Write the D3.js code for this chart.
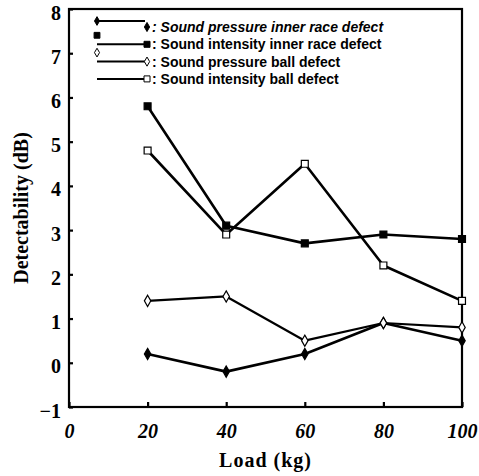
<html>
<head>
<meta charset="utf-8">
<title>Detectability vs Load</title>
<style>
  body { margin: 0; background: #fff; }
  .tick text { font-family: "Liberation Serif", serif; font-weight: bold; fill: #000; }
</style>
<script src="https://d3js.org/d3.v7.min.js"></script>
</head>
<body>
<svg width="479" height="476"></svg>
<script>
var loads = [20, 40, 60, 80, 100];
var pressureInner = [0.2, -0.2, 0.2, 0.9, 0.5];
var intensityInner = [5.8, 3.1, 2.7, 2.9, 2.8];
var pressureBall = [1.4, 1.5, 0.5, 0.9, 0.8];
var intensityBall = [4.8, 2.9, 4.5, 2.2, 1.4];
var xTicks = [0, 20, 40, 60, 80, 100];
var yTicks = [-1, 0, 1, 2, 3, 4, 5, 6, 7, 8];
var seriesNames = [": Sound pressure inner race defect", ": Sound intensity inner race defect",
                   ": Sound pressure ball defect", ": Sound intensity ball defect"];

var series = [
  {name: seriesNames[0], values: pressureInner, marker: "diamond", fill: "#000", w: 2.6, italic: true},
  {name: seriesNames[1], values: intensityInner, marker: "square", fill: "#000", w: 2.6, italic: false},
  {name: seriesNames[2], values: pressureBall, marker: "diamond", fill: "#fff", w: 2.2, italic: false},
  {name: seriesNames[3], values: intensityBall, marker: "square", fill: "#fff", w: 2.6, italic: false}
];
// legend row layout: line offset, extra (start) marker offset
var legendLayout = [
  {lineDy: -6, startDy: -6, lineEnd: 48},
  {lineDy: 0, startDy: -9, lineEnd: 52},
  {lineDy: 0, startDy: -9, lineEnd: 48},
  {lineDy: 0, startDy: null, lineEnd: 48}
];

var svg = d3.select("svg"),
    margin = {top: 9, right: 17, bottom: 69, left: 69},
    width = +svg.attr("width") - margin.left - margin.right,
    height = +svg.attr("height") - margin.top - margin.bottom,
    g = svg.append("g").attr("transform", `translate(${margin.left},${margin.top})`);

var x = d3.scaleLinear().domain([0, 100]).range([0, width]),
    y = d3.scaleLinear().domain([-1, 8]).range([height, 0]);

// frame
g.append("rect").attr("width", width).attr("height", height)
  .attr("fill", "none").attr("stroke", "#000").attr("stroke-width", 2.2);

// axes
var xAxis = g.append("g").attr("transform", `translate(0,${height})`)
  .call(d3.axisBottom(x).tickValues(xTicks).tickSize(-5).tickPadding(17));
xAxis.select(".domain").remove();
xAxis.selectAll("line").attr("stroke-width", 2.2);
xAxis.selectAll("text").style("font-size", "20px").style("font-style", "italic");

var yAxis = g.append("g")
  .call(d3.axisLeft(y).tickValues(yTicks).tickSize(-4).tickPadding(8));
yAxis.select(".domain").remove();
yAxis.selectAll("line").attr("stroke-width", 2.2);
yAxis.selectAll("text").style("font-size", "20px").attr("dy", "0.5em");

// axis titles
svg.append("text").text("Load (kg)")
  .attr("x", margin.left + width / 2).attr("y", 467)
  .attr("text-anchor", "middle")
  .style("font", "bold 20px 'Liberation Serif', serif")
  .style("letter-spacing", "1px");
svg.append("text").text("Detectability (dB)")
  .attr("transform", `translate(28,${margin.top + height / 2}) rotate(-90)`)
  .attr("text-anchor", "middle")
  .style("font", "bold 20px 'Liberation Serif', serif");

function markerPath(type, size) {
  return d3.symbol().type(type === "diamond" ? d3.symbolDiamond : d3.symbolSquare).size(size)();
}

var line = d3.line().x((d, i) => x(loads[i])).y(d => y(d));

var sg = g.selectAll(".series").data(series).enter().append("g").attr("class", "series");
sg.append("path")
  .attr("d", d => line(d.values))
  .attr("fill", "none").attr("stroke", "#000")
  .attr("stroke-width", d => d.w).attr("stroke-linejoin", "round");
sg.selectAll("path.m").data(d => d.values.map(v => ({v: v, s: d})))
  .enter().append("path").attr("class", "m")
  .attr("transform", (d, i) => `translate(${x(loads[i])},${y(d.v)})`)
  .attr("d", d => markerPath(d.s.marker, d.s.marker === "diamond" ? 36 : 48))
  .attr("fill", d => d.s.fill).attr("stroke", "#000").attr("stroke-width", 1.2);

// legend
var legend = svg.append("g").selectAll("g").data(series).enter().append("g")
  .attr("transform", (d, i) => `translate(97,${27 + i * 17.3})`);
legend.append("line").attr("x1", 0)
  .attr("x2", (d, i) => legendLayout[i].lineEnd)
  .attr("y1", (d, i) => legendLayout[i].lineDy).attr("y2", (d, i) => legendLayout[i].lineDy)
  .attr("stroke", "#000").attr("stroke-width", 2);
legend.append("path").attr("transform", "translate(50,0)")
  .attr("d", d => markerPath(d.marker, d.marker === "diamond" ? 24 : 36))
  .attr("fill", d => d.fill).attr("stroke", "#000").attr("stroke-width", 1);
legend.filter((d, i) => legendLayout[i].startDy !== null)
  .append("path")
  .attr("transform", (d, i) => `translate(0,${legendLayout[series.indexOf(d)].startDy})`)
  .attr("d", d => markerPath(d.marker, d.marker === "diamond" ? 22 : 34))
  .attr("fill", d => d.fill).attr("stroke", "#000").attr("stroke-width", 1);
legend.append("text").text(d => d.name)
  .attr("x", 55).attr("dy", "0.35em")
  .style("font-family", "'Liberation Sans', sans-serif")
  .style("font-weight", "bold").style("font-size", "14px")
  .style("font-style", d => d.italic ? "italic" : "normal");
</script>
</body>
</html>
